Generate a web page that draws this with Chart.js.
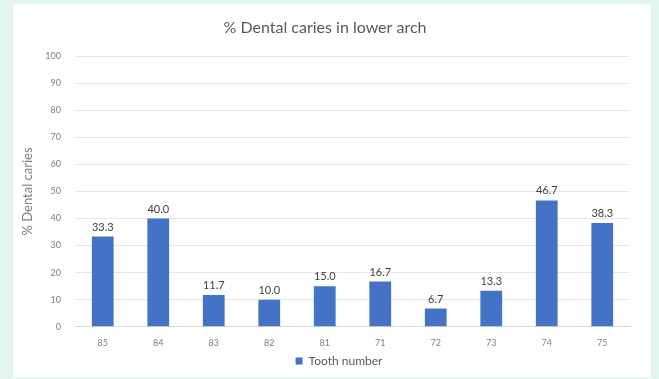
<!DOCTYPE html>
<html>
<head>
<meta charset="utf-8">
<script src="https://cdn.jsdelivr.net/npm/chart.js@4.4.0/dist/chart.umd.min.js"></script>
<style>
    html, body { margin: 0; padding: 0; }
    body { width: 659px; height: 379px; background: #e2f5ee; position: relative; overflow: hidden; }
    #panel { position: absolute; left: 13px; top: 4px; width: 638px; height: 373px; background: #fff; }
</style>
</head>
<body>
<div id="panel"><canvas id="caries" width="638" height="373"></canvas></div>
<script>
    "use strict";

    // Data
    var teeth = ['85', '84', '83', '82', '81', '71', '72', '73', '74', '75'];
    var cariesPct = [33.3, 40.0, 11.7, 10.0, 15.0, 16.7, 6.7, 13.3, 46.7, 38.3];
    var yTicks = [0, 10, 20, 30, 40, 50, 60, 70, 80, 90, 100];

    var fontFamily = "Lato, 'Liberation Sans', sans-serif";

    // Value labels above bars
    var barLabels = {
        id: 'barLabels',
        afterLayout: function (chart) {
            // nudge the legend a little to the right, like the original
            chart.legend.left += 14;
            chart.legend.right += 14;
        },
        afterDatasetsDraw: function (chart) {
            var ctx = chart.ctx;
            var meta = chart.getDatasetMeta(0);
            ctx.save();
            ctx.font = '11px ' + fontFamily;
            ctx.fillStyle = '#404040';
            ctx.textAlign = 'center';
            ctx.textBaseline = 'bottom';
            meta.data.forEach(function (bar, i) {
                ctx.fillText(cariesPct[i].toFixed(1), bar.x, bar.y - 4);
            });
            ctx.restore();
        }
    };

    var ctx = document.getElementById('caries').getContext('2d');
    var chart = new Chart(ctx, {
        type: 'bar',
        data: {
            labels: teeth,
            datasets: [{
                label: 'Tooth number',
                data: cariesPct,
                backgroundColor: '#4472c4',
                barPercentage: 0.8,
                categoryPercentage: 0.49
            }]
        },
        options: {
            responsive: false,
            animation: false,
            layout: { padding: { left: 7, right: 21, top: 0, bottom: 0 } },
            plugins: {
                title: {
                    display: true,
                    text: '% Dental caries in lower arch',
                    color: '#595959',
                    font: { family: fontFamily, size: 16, weight: 'normal' },
                    padding: { top: 14, bottom: 19 }
                },
                legend: {
                    position: 'bottom',
                    labels: {
                        boxWidth: 7,
                        boxHeight: 7,
                        color: '#595959',
                        font: { family: fontFamily, size: 12 },
                        padding: 5
                    }
                },
                tooltip: { enabled: false }
            },
            scales: {
                x: {
                    afterFit: function (scale) { scale.height = 23.3; },
                    grid: { display: false, drawTicks: false },
                    border: { color: '#d9d9d9' },
                    ticks: { color: '#7f7f7f', font: { family: fontFamily, size: 9 }, padding: 11 }
                },
                y: {
                    min: 0,
                    max: 100,
                    afterBuildTicks: function (scale) {
                        scale.ticks = yTicks.map(function (v) { return { value: v }; });
                    },
                    afterFit: function (scale) { scale.width = 55; },
                    grid: { color: '#e6e6e6', drawTicks: false },
                    border: { display: false },
                    ticks: { color: '#7f7f7f', font: { family: fontFamily, size: 9 }, padding: 14 },
                    title: {
                        display: true,
                        text: '% Dental caries',
                        color: '#7f7f7f',
                        font: { family: fontFamily, size: 13 },
                        padding: { top: 0, bottom: 4 }
                    }
                }
            }
        },
        plugins: [barLabels]
    });
</script>
</body>
</html>
